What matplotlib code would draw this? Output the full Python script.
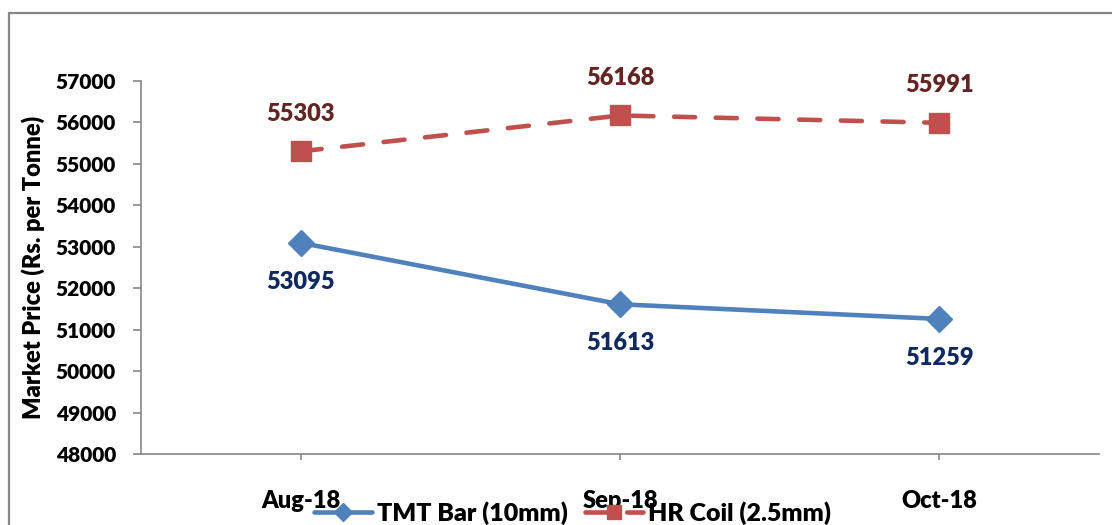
import matplotlib
matplotlib.use('Agg')
import matplotlib.pyplot as plt
from matplotlib.patches import Rectangle

# Chart data
months = ['Aug-18', 'Sep-18', 'Oct-18']
tmt_bar = [53095, 51613, 51259]
hr_coil = [55303, 56168, 55991]
y_ticks = list(range(48000, 57001, 1000))

plt.rcParams['font.family'] = ['Lato', 'DejaVu Sans']
plt.rcParams['font.weight'] = 'heavy'
plt.rcParams['axes.labelweight'] = 'heavy'

fig = plt.figure(figsize=(11.12, 5.25), dpi=100)
ax = fig.add_axes([141 / 1112, 1 - 454 / 525, (1099 - 141) / 1112, (454 - 81) / 525])

x = list(range(len(months)))
ax.plot(x, tmt_bar, color='#4F81BD', lw=3.3, marker='D', ms=13,
        solid_capstyle='round', label='TMT Bar (10mm)')
ax.plot(x, hr_coil, color='#C0504D', lw=3.3, marker='s', ms=14,
        ls=(0, (4.6, 4.5)), dash_capstyle='round', label='HR Coil (2.5mm)')

for xi, v in zip(x, hr_coil):
    ax.annotate(str(v), (xi, v), xytext=(0, 27), textcoords='offset points',
                ha='center', va='center', fontsize=17, color='#632523')
for xi, v in zip(x, tmt_bar):
    ax.annotate(str(v), (xi, v), xytext=(0, -28), textcoords='offset points',
                ha='center', va='center', fontsize=17, color='#0F2A5E')

ax.set_xlim(-0.5, len(months) - 0.5)
ax.set_ylim(48000, 57000)
ax.set_yticks(y_ticks)
ax.set_xticks(x)
ax.set_xticklabels(months)
ax.tick_params(axis='y', labelsize=15, color='#868686', length=6, width=1.2, pad=12)
ax.tick_params(axis='x', labelsize=17, color='#868686', length=4, width=1.2, pad=22)

for side in ['top', 'right']:
    ax.spines[side].set_visible(False)
for side in ['left', 'bottom']:
    ax.spines[side].set_color('#868686')
    ax.spines[side].set_linewidth(1.2)

ax.set_ylabel('Market Price (Rs. per Tonne)', fontsize=17, fontweight='heavy', labelpad=8)

fig.legend(loc='center', bbox_to_anchor=(0.515, 0.023), ncol=2, frameon=False,
           fontsize=18, handlelength=2.3, handletextpad=0.2, columnspacing=0.7,
           markerscale=0.7)

# outer chart border
fig.patches.append(Rectangle((9 / 1112, -0.1), 1.2, 1 - 13 / 525 + 0.1,
                             transform=fig.transFigure, fill=False,
                             edgecolor='#868686', lw=1.6))

fig.savefig('out.png', dpi=100)
